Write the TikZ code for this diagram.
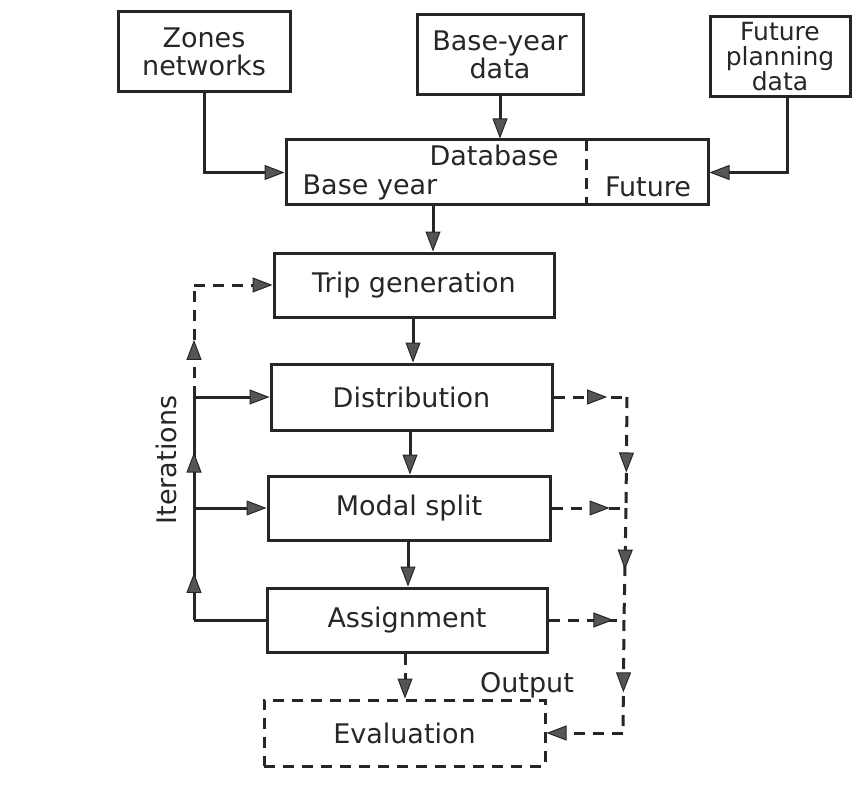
\documentclass[tikz,border=0pt]{standalone}
\usepackage{fontspec}
\setmainfont{DejaVu Sans}
\usetikzlibrary{arrows.meta,decorations.markings}
\definecolor{lin}{HTML}{262626}
\definecolor{tipc}{HTML}{555555}
\tikzset{
  box/.style={draw=lin, line width=3pt, minimum width=#1, inner sep=0pt, align=center,
     font=\fontsize{27}{28}\selectfont, text=lin},
  con/.style={draw=lin, line width=3pt},
  dsh/.style={dash pattern=on 11pt off 8pt},
  endtip/.style={-{Triangle[length=20pt,width=15pt,fill=tipc,line width=1pt]}},
  midarr/.style={postaction={decorate,decoration={markings,
     mark=at position #1 with {\arrow{Triangle[length=20pt,width=15pt,fill=tipc,line width=1pt]}}}}},
  lbl/.style={font=\fontsize{27}{28}\selectfont, text=lin, inner sep=0pt}
}
\begin{document}
\begin{tikzpicture}[x=1pt,y=-1pt]
\path[use as bounding box, fill=white] (0,0) rectangle (860,789);

% top input boxes
\node[box=172pt, minimum height=80pt] (zones) at (204,52) {Zones\\networks};
\node[box=166pt, minimum height=80pt] (baseyr) at (500,55) {Base-year\\data};
\node[box=140pt, minimum height=80pt, font=\fontsize{25}{25}\selectfont] (future) at (780,57) {Future\\planning\\data};

% database
\node[box=422pt, minimum height=65pt] (db) at (497,172.5) {};
\node[lbl] (dbt) at (494,155) {Database};
\node[lbl] (dbb) at (370,187) {Base year};
\node[lbl] (dbf) at (648,187) {Future};
\coordinate (divT) at (586,140);
\coordinate (divB) at (586,205);
\draw[con, dsh] (divT) -- (divB);

% main chain
\node[box=280pt, minimum height=64pt] (trip) at (414,285) {Trip generation};
\node[box=281pt, minimum height=66pt] (dist) at (411.5,397) {Distribution};
\node[box=282pt, minimum height=64pt] (modal) at (409,508) {Modal split};
\node[box=280pt, minimum height=64pt] (assign) at (407,620) {Assignment};
\node[box=281pt, minimum height=66pt, dsh] (eval) at (404.5,733) {Evaluation};
\node[lbl] (out) at (527,685) {Output};
\node[lbl, rotate=90] (iter) at (166,460) {Iterations};

% inputs to database
\draw[con, endtip] (zones.south) |- (db.west);
\draw[con, endtip] (baseyr.south) -- (baseyr.south |- db.north);
\coordinate (fs) at (787,97);
\draw[con, endtip] (fs) |- (db.east);

% chain arrows
\draw[con, endtip] (db.south -| 433,0) -- (trip.north -| 433,0);
\draw[con, endtip] (trip.south -| 413,0) -- (dist.north -| 413,0);
\draw[con, endtip] (dist.south -| 410,0) -- (modal.north -| 410,0);
\draw[con, endtip] (modal.south -| 408,0) -- (assign.north -| 408,0);
\draw[con, dsh, endtip] (assign.south -| 405,0) -- (eval.north -| 405,0);

% iteration loop (left)
\coordinate (lA) at (194,620);
\coordinate (lM) at (194,508);
\coordinate (lD) at (194,397);
\coordinate (lT) at (194,285);
\draw[con] (assign.west) -- (lA);
\draw[con, midarr=0.42] (lA) -- (lM);
\draw[con, endtip] (lM) -- (modal.west);
\draw[con, midarr=0.5] (lM) -- (lD);
\draw[con, endtip] (lD) -- (dist.west);
\draw[con, dsh, midarr=0.51] (lD) -- (lT);
\draw[con, dsh, endtip] (lT) -- (trip.west);

% output collection (right)
\coordinate (rD) at (627,397);
\coordinate (rM) at (626,508);
\coordinate (rA) at (624,620);
\coordinate (rE) at (623,733);
\draw[con, dsh, midarr=0.73] (dist.east) -- (rD);
\draw[con, dsh, midarr=0.68] (rD) -- (rM);
\draw[con, dsh, midarr=0.78] (modal.east) -- (rM);
\draw[con, dsh, midarr=0.55] (rM) -- (rA);
\draw[con, dsh, midarr=0.86] (assign.east) -- (rA);
\draw[con, dsh, midarr=0.64] (rA) -- (rE);
\draw[con, dsh, endtip] (rE) -- (eval.east);
\end{tikzpicture}
\end{document}
